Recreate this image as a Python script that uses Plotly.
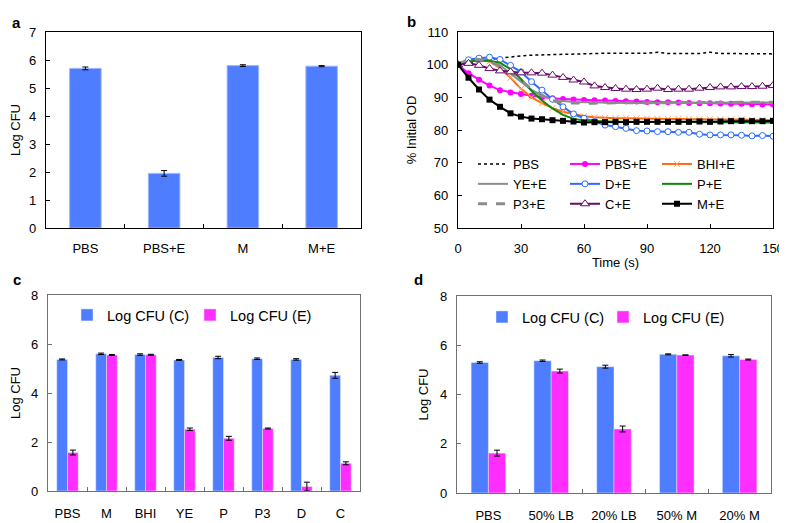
import plotly.graph_objects as go

# the page body has an 8px margin, so the figure is drawn 8px smaller and shifted
OFF = 8
W, H = 787 - OFF, 523 - OFF

# ---- panel a ----
a_groups = ["PBS", "PBS+E", "M", "M+E"]
a_logcfu = [5.70, 1.95, 5.80, 5.78]
a_err = [0.05, 0.10, 0.03, 0.02]

# ---- panel b ----
time_s = [0, 5, 10, 15, 20, 25, 30, 35, 40, 45, 50, 55, 60, 65, 70, 75,
          80, 85, 90, 95, 100, 105, 110, 115, 120, 125, 130, 135, 140, 145, 150]
od_pbs = [100, 100.6, 101.0, 101.6, 102.0, 102.4, 102.7, 102.9, 103.0, 103.2, 103.3, 103.4, 103.5, 103.5, 103.5, 103.5,
          103.5, 103.6, 103.5, 103.8, 103.4, 103.4, 103.4, 103.4, 103.8, 103.4, 103.4, 103.4, 103.3, 103.3, 103.3]
od_pbs_e = [100, 97.4, 95.4, 93.6, 92.2, 91.5, 91.0, 90.5, 90.0, 89.7, 89.5, 89.3, 89.2, 89.1, 89.0, 88.9,
            88.8, 88.7, 88.6, 88.5, 88.5, 88.4, 88.3, 88.2, 88.2, 88.1, 88.0, 88.0, 87.9, 87.8, 87.8]
od_bhi_e = [100, 101.6, 101.6, 101.0, 99.0, 96.0, 92.6, 90.0, 88.2, 86.7, 85.6, 84.8, 84.2, 83.9, 83.7, 83.6,
            83.6, 83.5, 83.5, 83.4, 83.4, 83.4, 83.3, 83.3, 83.3, 83.2, 83.2, 83.2, 83.1, 83.1, 83.0]
od_ye_e = [100, 101.5, 101.8, 101.3, 99.8, 97.4, 94.8, 92.3, 90.6, 89.5, 88.9, 88.6, 88.5, 88.4, 88.4, 88.3,
           88.3, 88.3, 88.3, 88.3, 88.3, 88.3, 88.3, 88.3, 88.3, 88.3, 88.4, 88.4, 88.4, 88.4, 88.4]
od_d_e = [100, 101.5, 102.0, 102.3, 101.6, 99.8, 97.8, 94.8, 92.2, 89.4, 87.1, 84.9, 83.6, 82.6, 81.5, 81.0,
          80.5, 79.8, 79.7, 79.5, 79.5, 79.3, 79.3, 78.7, 78.5, 78.5, 78.5, 78.4, 78.2, 78.3, 78.1]
od_p_e = [100, 101.0, 101.3, 101.2, 100.6, 98.6, 95.6, 92.0, 89.0, 86.6, 84.6, 83.4, 82.9, 82.7, 82.6, 82.5,
          82.5, 82.5, 82.4, 82.4, 82.4, 82.4, 82.4, 82.4, 82.3, 82.3, 82.3, 82.3, 82.3, 82.3, 82.3]
od_p3_e = [100, 101.6, 101.6, 101.0, 99.6, 97.6, 95.1, 92.6, 90.5, 89.0, 88.3, 88.2, 88.2, 88.2, 88.3, 88.3,
           88.3, 88.3, 88.3, 88.4, 88.4, 88.4, 88.4, 88.4, 88.4, 88.4, 88.5, 88.5, 88.5, 88.5, 88.5]
od_c_e = [100, 100.4, 99.8, 98.8, 98.1, 97.8, 97.5, 97.5, 97.4, 96.8, 96.1, 95.3, 94.7, 93.5, 93.0, 92.7,
          92.5, 92.4, 92.5, 92.8, 92.4, 92.5, 92.5, 92.8, 93.0, 93.2, 93.2, 93.3, 93.3, 93.4, 93.6]
od_m_e = [100, 96.0, 92.4, 89.3, 87.1, 85.1, 84.1, 83.5, 83.3, 83.0, 82.8, 82.6, 82.3, 82.4, 82.4, 82.5,
          82.4, 82.5, 82.5, 82.5, 82.5, 82.5, 82.5, 82.6, 82.5, 82.6, 82.7, 82.8, 82.7, 82.7, 82.8]

# ---- panel c ----
c_media = ["PBS", "M", "BHI", "YE", "P", "P3", "D", "C"]
c_logcfu_c = [5.37, 5.60, 5.57, 5.35, 5.45, 5.40, 5.37, 4.72]
c_err_c = [0.02, 0.03, 0.03, 0.02, 0.05, 0.03, 0.03, 0.12]
c_logcfu_e = [1.57, 5.55, 5.56, 2.52, 2.15, 2.55, 0.18, 1.13]
c_err_e = [0.10, 0.02, 0.02, 0.05, 0.08, 0.02, 0.18, 0.06]

# ---- panel d ----
d_media = ["PBS", "50% LB", "20% LB", "50% M", "20% M"]
d_logcfu_c = [5.30, 5.37, 5.13, 5.63, 5.57]
d_err_c = [0.03, 0.03, 0.06, 0.02, 0.05]
d_logcfu_e = [1.62, 4.95, 2.60, 5.60, 5.42]
d_err_e = [0.12, 0.08, 0.12, 0.01, 0.02]

BLUE = "#4F7DFF"
MAGENTA = "#FF2EFF"
FONT = "Liberation Sans, Arial, sans-serif"


# positions given in screen pixels of the reference
def px(x):
    return (x - OFF) / W


def py(y):
    return 1 - (y - OFF) / H


def xd(x0, x1):
    return [px(x0), px(x1)]


def yd(top, bottom):
    return [py(bottom), py(top)]


def err(vals):
    return dict(type="data", array=vals, color="black", thickness=1, width=3)


fig = go.Figure()

# a
fig.add_trace(go.Bar(x=a_groups, y=a_logcfu, error_y=err(a_err), marker_color=BLUE,
                     marker_line=dict(color="#9db5ff", width=1), width=0.4,
                     showlegend=False, xaxis="x", yaxis="y"))

# b
b_series = [
    ("PBS", od_pbs, dict(color="black", width=1.5, dash="dot"), None, "legend"),
    ("PBS+E", od_pbs_e, dict(color="#FF00FF", width=2), dict(symbol="circle", size=6, color="#FF00FF"), "legend2"),
    ("BHI+E", od_bhi_e, dict(color="#FF6A10", width=2), dict(symbol="x-thin-open", size=6, color="#FFA060", line=dict(width=1, color="#FFA060")), "legend3"),
    ("YE+E", od_ye_e, dict(color="#8C8C8C", width=2), None, "legend"),
    ("D+E", od_d_e, dict(color="#2F6BFF", width=2), dict(symbol="circle", size=6, color="white", line=dict(width=1, color="#2F6BFF")), "legend2"),
    ("P+E", od_p_e, dict(color="#0A8A0A", width=2), None, "legend3"),
    ("P3+E", od_p3_e, dict(color="#8C8C8C", width=3, dash="dash"), None, "legend"),
    ("C+E", od_c_e, dict(color="#6A0A6A", width=2), dict(symbol="triangle-up", size=8, color="white", line=dict(width=1, color="#6A0A6A")), "legend2"),
    ("M+E", od_m_e, dict(color="black", width=2), dict(symbol="square", size=6, color="black"), "legend3"),
]
for name, vals, line, marker, leg in b_series:
    fig.add_trace(go.Scatter(x=time_s, y=vals, name=name, line=line,
                             mode="lines+markers" if marker else "lines",
                             marker=marker, legend=leg, xaxis="x2", yaxis="y2"))

# c
fig.add_trace(go.Bar(x=c_media, y=c_logcfu_c, error_y=err(c_err_c), name="Log CFU (C)",
                     marker_color=BLUE, legend="legend4", xaxis="x3", yaxis="y3"))
fig.add_trace(go.Bar(x=c_media, y=c_logcfu_e, error_y=err(c_err_e), name="Log CFU (E)",
                     marker_color=MAGENTA, legend="legend4", xaxis="x3", yaxis="y3"))

# d
fig.add_trace(go.Bar(x=d_media, y=d_logcfu_c, error_y=err(d_err_c), name="Log CFU (C)",
                     marker_color=BLUE, legend="legend5", xaxis="x4", yaxis="y4"))
fig.add_trace(go.Bar(x=d_media, y=d_logcfu_e, error_y=err(d_err_e), name="Log CFU (E)",
                     marker_color=MAGENTA, legend="legend5", xaxis="x4", yaxis="y4"))

tick = dict(size=13, color="black", family=FONT)


def axis(line_color, **kw):
    base = dict(showline=True, mirror=True, linecolor=line_color, linewidth=1.3,
                ticks="inside", ticklen=4, tickcolor=line_color, tickfont=tick,
                showgrid=False, zeroline=False, automargin=False, fixedrange=True,
                ticklabelstandoff=6)
    base.update(kw)
    return base


leg_common = dict(bgcolor="rgba(0,0,0,0)", tracegroupgap=0, itemwidth=30,
                  yanchor="top", xanchor="left")
leg_font_b = dict(size=13, family=FONT, color="black")
leg_font_cd = dict(size=14.5, family=FONT, color="black")

fig.update_layout(
    width=W, height=H, margin=dict(l=0, r=0, t=0, b=0),
    paper_bgcolor="white", plot_bgcolor="white",
    font=dict(family=FONT, color="black"),
    barmode="group",
    xaxis=axis("black", domain=xd(46, 361), anchor="y", tickson="boundaries", ticklabelstandoff=8),
    yaxis=axis("black", domain=yd(32, 228), anchor="x", range=[0, 7], dtick=1,
               title=dict(text="Log CFU", font=tick, standoff=10)),
    xaxis2=axis("black", domain=xd(458, 773), anchor="y2", range=[0, 150], dtick=30,
                ticklabelstandoff=8, title=dict(text="Time (s)", font=tick, standoff=3)),
    yaxis2=axis("black", domain=yd(32, 228), anchor="x2", range=[50, 110], dtick=10,
                title=dict(text="% Initial OD", font=tick, standoff=6)),
    xaxis3=axis("#707070", domain=xd(48, 360), anchor="y3", tickson="boundaries", ticklabelstandoff=10),
    yaxis3=axis("#707070", domain=yd(295, 491), anchor="x3", range=[0, 8], dtick=2,
                title=dict(text="Log CFU", font=tick, standoff=8)),
    xaxis4=axis("#707070", domain=xd(457, 771), anchor="y4", tickson="boundaries", ticklabelstandoff=10),
    yaxis4=axis("#707070", domain=yd(296, 493), anchor="x4", range=[0, 8], dtick=2,
                title=dict(text="Log CFU", font=tick, standoff=8)),
    bargap=0.45, bargroupgap=0,
    legend=dict(x=px(473), y=py(149), font=leg_font_b, **leg_common),
    legend2=dict(x=px(565), y=py(149), font=leg_font_b, **leg_common),
    legend3=dict(x=px(657), y=py(149), font=leg_font_b, **leg_common),
    legend4=dict(x=px(67), y=py(299), orientation="h", entrywidth=78, font=leg_font_cd, **leg_common),
    legend5=dict(x=px(482), y=py(301), orientation="h", entrywidth=76, font=leg_font_cd, **leg_common),
)

for label, x, y in [("a", 10, 12), ("b", 411, 11), ("c", 11, 279), ("d", 418, 279)]:
    fig.add_annotation(text="<b>%s</b>" % label, x=px(x), y=py(y), xref="paper", yref="paper",
                       showarrow=False, font=dict(size=15, family=FONT, color="black"))

fig.write_html("out.html")
